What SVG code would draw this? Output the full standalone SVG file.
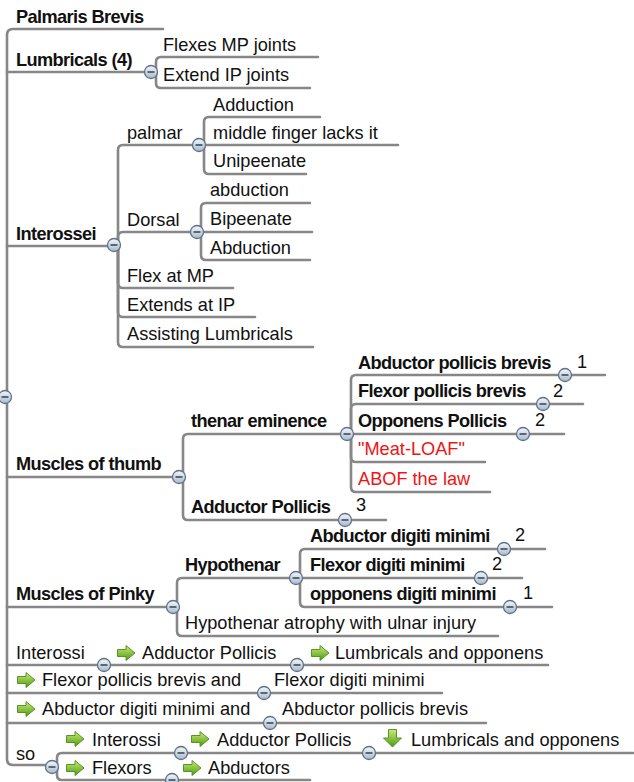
<svg xmlns="http://www.w3.org/2000/svg" xmlns:xlink="http://www.w3.org/1999/xlink" width="634" height="782" viewBox="0 0 634 782">
<defs>
<style>
.ln{fill:none;stroke:#878787;stroke-width:2.6;stroke-linecap:round}
text{font-family:"Liberation Sans",Arial,Helvetica,sans-serif;font-size:18.2px;fill:#111}
.b{font-weight:bold;letter-spacing:-0.6px}
.red{fill:#f01414}
</style>
<linearGradient id="cg" x1="0" y1="0" x2="0" y2="1">
<stop offset="0" stop-color="#f4f7fa"/>
<stop offset="1" stop-color="#a9bacb"/>
</linearGradient>
<linearGradient id="ag" x1="0" y1="0" x2="0" y2="1">
<stop offset="0" stop-color="#c9ec74"/>
<stop offset="1" stop-color="#4f9a16"/>
</linearGradient>
<g id="tg">
<circle r="6.5" fill="url(#cg)" stroke="#5e7389" stroke-width="1.3"/>
<line x1="-3.5" y1="0" x2="3.5" y2="0" stroke="#3a4b5c" stroke-width="1.6"/>
</g>
<polygon id="ar" points="0.5,4.5 9,4.5 9,0.5 18,8 9,15.5 9,11.5 0.5,11.5" fill="url(#ag)" stroke="#4c8a18" stroke-width="0.9" stroke-linejoin="round"/>
<polygon id="ad" points="4.5,0.5 12.5,0.5 12.5,9 17.5,9 8.5,18 -0.5,9 4.5,9" fill="url(#ag)" stroke="#4c8a18" stroke-width="0.9" stroke-linejoin="round"/>
</defs>
<rect width="634" height="782" fill="#ffffff"/>

<g id="connectors">
<path class="ln" d="M163 29 H13 Q7 29 7 35 V759 Q7 765 13 765 H46"/>
<path class="ln" d="M7 72 H146"/>
<path class="ln" d="M156 72 V62 Q156 57 161 57 H318"/>
<path class="ln" d="M156 72 V83 Q156 88 161 88 H310"/>
<path class="ln" d="M7 246 H109"/>
<path class="ln" d="M118 245 V150 Q118 145 123 145 H193"/>
<path class="ln" d="M118 245 V237 Q118 232 123 232 H191"/>
<path class="ln" d="M118 245 V283 Q118 288 123 288 H233"/>
<path class="ln" d="M118 245 V312 Q118 317 123 317 H255"/>
<path class="ln" d="M118 245 V342 Q118 347 123 347 H313"/>
<path class="ln" d="M204 145 V122 Q204 117 209 117 H320"/>
<path class="ln" d="M199 145 H398"/>
<path class="ln" d="M204 145 V169 Q204 174 209 174 H306"/>
<path class="ln" d="M201 232 V208 Q201 203 206 203 H310"/>
<path class="ln" d="M197 232 H312"/>
<path class="ln" d="M201 232 V255 Q201 260 206 260 H310"/>
<path class="ln" d="M7 477 H173"/>
<path class="ln" d="M183 477 V439 Q183 434 188 434 H341"/>
<path class="ln" d="M183 477 V515 Q183 520 188 520 H386"/>
<path class="ln" d="M351 434 V380 Q351 375 356 375 H605"/>
<path class="ln" d="M351 434 V409 Q351 404 356 404 H583"/>
<path class="ln" d="M347 434 H564"/>
<path class="ln" d="M351 434 V457 Q351 462 356 462 H485"/>
<path class="ln" d="M351 434 V487 Q351 492 356 492 H490"/>
<path class="ln" d="M7 607 H167"/>
<path class="ln" d="M177 607 V583 Q177 578 182 578 H290"/>
<path class="ln" d="M177 607 V631 Q177 636 182 636 H498"/>
<path class="ln" d="M300 578 V554 Q300 549 305 549 H545"/>
<path class="ln" d="M296 578 H522"/>
<path class="ln" d="M300 578 V602 Q300 607 305 607 H552"/>
<path class="ln" d="M7 665 H548"/>
<path class="ln" d="M7 693 H442"/>
<path class="ln" d="M7 723 H486"/>
<path class="ln" d="M57 767 V758 Q57 753 62 753 H633"/>
<path class="ln" d="M57 767 V775 Q57 780 62 780 H310"/>
</g>

<g id="root"><use href="#tg" x="5" y="397"/></g>

<g id="n-palmaris"><text class="b" x="16" y="23">Palmaris Brevis</text></g>

<g id="n-lumbricals">
<text class="b" x="16" y="66">Lumbricals (4)</text>
<use href="#tg" x="151" y="72"/>
</g>
<g id="n-flexes"><text x="163" y="51">Flexes MP joints</text></g>
<g id="n-extend"><text x="163" y="81">Extend IP joints</text></g>

<g id="n-interossei">
<text class="b" x="16" y="240">Interossei</text>
<use href="#tg" x="114" y="245"/>
</g>
<g id="n-palmar">
<text x="127" y="139">palmar</text>
<use href="#tg" x="199" y="145"/>
</g>
<g id="n-adduction"><text x="213" y="111">Adduction</text></g>
<g id="n-middle"><text x="213" y="139">middle finger lacks it</text></g>
<g id="n-unipeenate"><text x="213" y="167">Unipeenate</text></g>
<g id="n-dorsal">
<text x="127" y="226">Dorsal</text>
<use href="#tg" x="197" y="232"/>
</g>
<g id="n-abduction1"><text x="210" y="196">abduction</text></g>
<g id="n-bipeenate"><text x="210" y="225">Bipeenate</text></g>
<g id="n-abduction2"><text x="210" y="254">Abduction</text></g>
<g id="n-flexmp"><text x="127" y="282">Flex at MP</text></g>
<g id="n-extendsip"><text x="127" y="311">Extends at IP</text></g>
<g id="n-assisting"><text x="127" y="340">Assisting Lumbricals</text></g>

<g id="n-thumb">
<text class="b" x="16" y="470">Muscles of thumb</text>
<use href="#tg" x="179" y="477"/>
</g>
<g id="n-thenar">
<text class="b" x="191" y="427">thenar eminence</text>
<use href="#tg" x="347" y="434"/>
</g>
<g id="n-apb">
<text class="b" x="358" y="369">Abductor pollicis brevis</text>
<use href="#tg" x="565" y="375"/>
<text x="577" y="368">1</text>
</g>
<g id="n-fpb">
<text class="b" x="358" y="397">Flexor pollicis brevis</text>
<use href="#tg" x="543" y="404"/>
<text x="553" y="397">2</text>
</g>
<g id="n-op">
<text class="b" x="358" y="427">Opponens Pollicis</text>
<use href="#tg" x="523" y="434"/>
<text x="535" y="426">2</text>
</g>
<g id="n-meat"><text class="red" x="358" y="455">"Meat-LOAF"</text></g>
<g id="n-abof"><text class="red" x="358" y="485">ABOF the law</text></g>
<g id="n-adductor">
<text class="b" x="191" y="513">Adductor Pollicis</text>
<use href="#tg" x="345" y="520"/>
<text x="356" y="511">3</text>
</g>

<g id="n-pinky">
<text class="b" x="16" y="600">Muscles of Pinky</text>
<use href="#tg" x="173" y="607"/>
</g>
<g id="n-hypothenar">
<text class="b" x="185" y="571">Hypothenar</text>
<use href="#tg" x="296" y="578"/>
</g>
<g id="n-adm">
<text class="b" x="310" y="542">Abductor digiti minimi</text>
<use href="#tg" x="504" y="549"/>
<text x="515" y="541">2</text>
</g>
<g id="n-fdm">
<text class="b" x="310" y="571">Flexor digiti minimi</text>
<use href="#tg" x="481" y="578"/>
<text x="492" y="570">2</text>
</g>
<g id="n-odm">
<text class="b" x="310" y="600">opponens digiti minimi</text>
<use href="#tg" x="510" y="607"/>
<text x="523" y="599">1</text>
</g>
<g id="n-atrophy"><text x="185" y="629">Hypothenar atrophy with ulnar injury</text></g>

<g id="n-interossi">
<text x="16" y="659">Interossi</text>
<use href="#tg" x="104" y="665"/>
</g>
<g id="n-interossi-ap">
<use href="#ar" x="117" y="645"/>
<text x="142" y="659">Adductor Pollicis</text>
<use href="#tg" x="297" y="665"/>
</g>
<g id="n-interossi-lo">
<use href="#ar" x="311" y="645"/>
<text x="335" y="659">Lumbricals and opponens</text>
</g>

<g id="n-fpb-and">
<use href="#ar" x="17" y="672"/>
<text x="42" y="686">Flexor pollicis brevis and</text>
<use href="#tg" x="264" y="693"/>
</g>
<g id="n-fdm2"><text x="274" y="686">Flexor digiti minimi</text></g>

<g id="n-adm-and">
<use href="#ar" x="17" y="701"/>
<text x="42" y="715">Abductor digiti minimi and</text>
<use href="#tg" x="270" y="723"/>
</g>
<g id="n-apb2"><text x="282" y="715">Abductor pollicis brevis</text></g>

<g id="n-so">
<text x="16" y="760">so</text>
<use href="#tg" x="52" y="767"/>
</g>
<g id="n-so-interossi">
<use href="#ar" x="66" y="731"/>
<text x="92" y="746">Interossi</text>
<use href="#tg" x="181" y="753"/>
</g>
<g id="n-so-ap">
<use href="#ar" x="191" y="731"/>
<text x="217" y="746">Adductor Pollicis</text>
<use href="#tg" x="369" y="753"/>
</g>
<g id="n-so-lo">
<use href="#ad" x="384" y="729"/>
<text x="411" y="746">Lumbricals and opponens</text>
</g>
<g id="n-so-flexors">
<use href="#ar" x="66" y="760"/>
<text x="92" y="774">Flexors</text>
<use href="#tg" x="172" y="780"/>
</g>
<g id="n-so-abductors">
<use href="#ar" x="183" y="760"/>
<text x="208" y="774">Abductors</text>
</g>
</svg>
